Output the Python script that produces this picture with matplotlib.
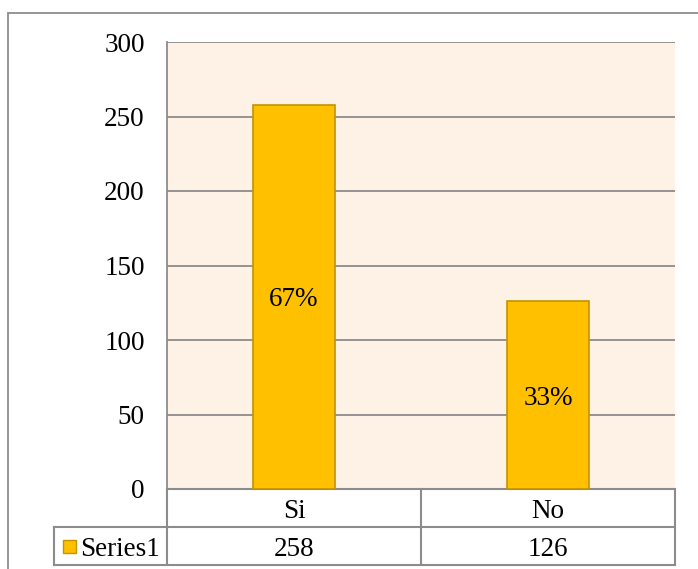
import matplotlib.pyplot as plt
from matplotlib.patches import Rectangle
from matplotlib.lines import Line2D
import matplotlib.transforms as mtransforms

categories = ["Si", "No"]
values = [258, 126]
series_name = "Series1"
yticks = [0, 50, 100, 150, 200, 250, 300]

plt.rcParams["font.family"] = ["Liberation Serif", "DejaVu Serif"]
FS = 19.5
GRAY = "#8c8c8c"
BAR = "#FFC000"
BAR_EDGE = "#C49400"

W, H = 698, 569
fig = plt.figure(figsize=(W / 100, H / 100), dpi=100)

# outer chart border (right / bottom run off the image)
fig.add_artist(Rectangle((8 / W, -0.1), 1.2, 1 - 13 / H + 0.1,
                         transform=fig.transFigure, fill=False,
                         edgecolor=GRAY, linewidth=1.3))

ax = fig.add_axes([167 / W, (H - 489) / H, 508 / W, 447 / H])
ax.set_facecolor("#FEF1E6")

x = list(range(len(categories)))
bars = ax.bar(x, values, width=0.32, color=BAR, edgecolor=BAR_EDGE,
              linewidth=1.2, zorder=3)

total = sum(values)
for xi, v in zip(x, values):
    ax.text(xi, v / 2, f"{round(v / total * 100)}%", ha="center",
            va="center_baseline", fontsize=FS, zorder=4)

ax.set_xlim(-0.5, len(categories) - 0.5)
ax.set_ylim(0, 300)
ax.set_yticks(yticks)
ax.set_xticks([])
ax.tick_params(axis="y", length=0, pad=16, labelsize=FS)
ax.yaxis.grid(True, color=GRAY, linewidth=1.3)
ax.set_axisbelow(True)
for side in ["top", "right", "bottom"]:
    ax.spines[side].set_visible(False)
ax.spines["left"].set_color(GRAY)
ax.spines["left"].set_linewidth(1.3)

# data table below the plot
trans = mtransforms.blended_transform_factory(ax.transData, ax.transAxes)
unit = 254  # px per category
row_h = 38 / 447
left_col = -0.5 - 113 / unit
x0, x1 = -0.5, len(categories) - 0.5
lw = 1.5

def hline(y, xa, xb):
    ax.add_line(Line2D([xa, xb], [y, y], transform=trans, color=GRAY,
                       linewidth=lw, clip_on=False))

def vline(xv, ya, yb):
    ax.add_line(Line2D([xv, xv], [ya, yb], transform=trans, color=GRAY,
                       linewidth=lw, clip_on=False))

hline(0, x0, x1)
hline(-row_h, left_col, x1)
hline(-2 * row_h, left_col, x1)
vline(left_col, -row_h, -2 * row_h)
for b in [x0] + [xi + 0.5 for xi in x]:
    vline(b, 0, -2 * row_h)

for xi, cat, v in zip(x, categories, values):
    ax.text(xi, -row_h / 2, cat, transform=trans, ha="center",
            va="center_baseline", fontsize=FS)
    ax.text(xi, -1.5 * row_h, str(v), transform=trans, ha="center",
            va="center_baseline", fontsize=FS)

# legend key + series name
ax.add_patch(Rectangle((left_col + 9 / unit, -1.5 * row_h - 6.5 / 447),
                       13 / unit, 13 / 447, transform=trans, facecolor=BAR,
                       edgecolor=BAR_EDGE, linewidth=1, clip_on=False))
ax.text(left_col + 26 / unit, -1.5 * row_h, series_name, transform=trans,
        ha="left", va="center_baseline", fontsize=FS)

fig.savefig("out.png", dpi=100)
